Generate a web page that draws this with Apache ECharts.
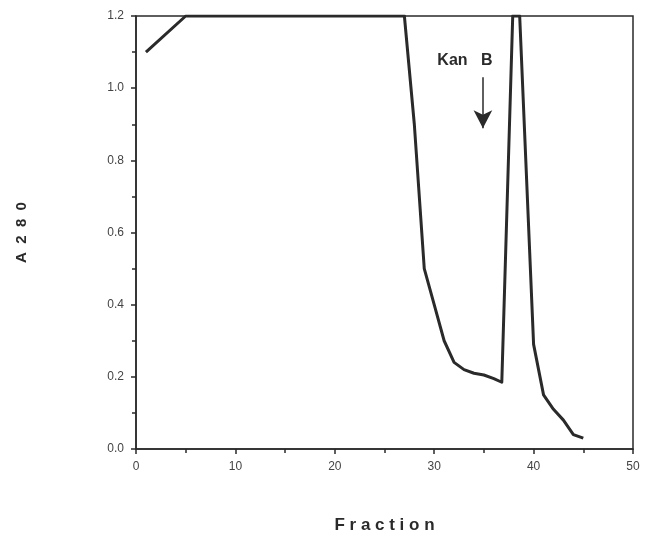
<!DOCTYPE html>
<html>
<head>
<meta charset="utf-8">
<script src="https://cdn.jsdelivr.net/npm/echarts@6/dist/echarts.min.js"></script>
<style>
  html, body { margin: 0; padding: 0; background: #fff; }
  #chart { width: 645px; height: 534px; }
</style>
</head>
<body>
<div id="chart"></div>
<script>
// elution profile
const fractions = [1, 5, 27, 28, 29, 30, 31, 32, 33, 34, 35, 36, 36.8, 37.9, 38.6, 40, 41, 42, 43, 44, 45];
const a280 = [1.10, 1.20, 1.20, 0.90, 0.50, 0.40, 0.30, 0.24, 0.22, 0.21, 0.205, 0.195, 0.185, 1.20, 1.20, 0.29, 0.15, 0.11, 0.08, 0.04, 0.03];
const xTicks = [0, 10, 20, 30, 40, 50];
const yTicks = [0, 0.2, 0.4, 0.6, 0.8, 1.0, 1.2];
// Kan B arrow (fraction, absorbance)
const arrowFrom = [34.9, 1.03];
const arrowTo = [34.9, 0.889];

const ink = "#2a2a2a";
const chart = echarts.init(document.getElementById("chart"));

chart.setOption({
  animation: false,
  backgroundColor: "#fff",
  grid: {
    left: 136, right: 12, top: 16, bottom: 85,
    outerBoundsMode: "none",
    show: true, borderColor: ink, borderWidth: 1.5,
  },
  xAxis: {
    type: "value",
    min: xTicks[0], max: xTicks[xTicks.length - 1], interval: 10,
    name: "F r a c t i o n", nameLocation: "middle", nameGap: 68,
    nameTextStyle: { fontFamily: "Liberation Sans", fontWeight: "bold", fontSize: 17, color: ink },
    axisLine: { lineStyle: { color: ink, width: 1.5 } },
    axisTick: { show: true, length: 5, lineStyle: { color: ink, width: 1.5 } },
    minorTick: { show: true, splitNumber: 2, length: 4, lineStyle: { color: ink, width: 1.5 } },
    axisLabel: { fontFamily: "Liberation Sans", fontSize: 12, color: "#444", margin: 12 },
    splitLine: { show: false },
  },
  yAxis: {
    type: "value",
    min: yTicks[0], max: yTicks[yTicks.length - 1], interval: 0.2,
    name: "A  2  8  0", nameLocation: "middle", nameGap: 107,
    nameTextStyle: { fontFamily: "Liberation Sans", fontWeight: "bold", fontSize: 15, color: ink },
    axisLine: { lineStyle: { color: ink, width: 1.5 } },
    axisTick: { show: true, length: 5, lineStyle: { color: ink, width: 1.5 } },
    minorTick: { show: true, splitNumber: 2, length: 4, lineStyle: { color: ink, width: 1.5 } },
    axisLabel: {
      fontFamily: "Liberation Sans", fontSize: 12, color: "#444", margin: 12,
      formatter: (v) => v.toFixed(1),
    },
    splitLine: { show: false },
  },
  series: [
    {
      type: "line",
      data: fractions.map((f, i) => [f, a280[i]]),
      showSymbol: false,
      lineStyle: { color: ink, width: 3, join: "round" },
      markLine: {
        silent: true,
        symbol: ["none", "arrow"],
        symbolSize: [14, 18],
        lineStyle: { color: ink, width: 1.5, type: "solid" },
        label: {
          show: true, position: "start", formatter: "Kan   B", distance: 9,
          offset: [-18, 0],
          fontFamily: "Liberation Sans", fontWeight: "bold", fontSize: 16, color: ink,
        },
        data: [[{ coord: arrowFrom }, { coord: arrowTo }]],
      },
    },
  ],
});
</script>
</body>
</html>
